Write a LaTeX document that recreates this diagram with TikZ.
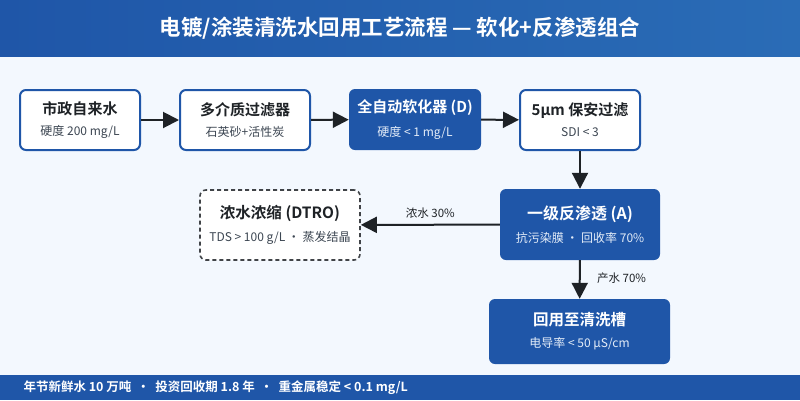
\documentclass[tikz,border=0pt]{standalone}
\usepackage{fontspec}
\setmainfont{Noto Sans CJK SC}[BoldFont={Noto Sans CJK SC Bold}]
\usetikzlibrary{arrows.meta}
\definecolor{deepblue}{HTML}{1F56A8}
\definecolor{lightblue}{HTML}{2A6CB6}
\definecolor{pagebg}{HTML}{F3F8FE}
\definecolor{inkdark}{HTML}{1E2226}
\definecolor{inkgray}{HTML}{3C4652}
\definecolor{subwhite}{HTML}{E3ECF8}
\begin{document}
\begin{tikzpicture}[x=1pt, y=-1pt,
    wbox/.style={draw=deepblue, line width=2pt, fill=white, rounded corners=6pt, align=center, text=inkdark, inner sep=0pt},
    bbox/.style={fill=deepblue, rounded corners=6pt, align=center, text=white, inner sep=0pt},
    dbox/.style={draw=inkdark!85, line width=1.6pt, dash pattern=on 4pt off 3pt, fill=white, rounded corners=6pt, align=center, text=inkdark, inner sep=0pt},
    flow/.style={line width=2pt, inkdark, -{Triangle[length=16pt,width=16pt]}},
    flowlabel/.style={font=\fontsize{11.5}{13}\selectfont, text=inkdark}]
    \useasboundingbox (0,0) rectangle (800,400);

    % Background, title and footer bars
    \fill[pagebg] (0,0) rectangle (800,400);
    \shade[left color=deepblue, right color=lightblue] (0,0) rectangle (800,56);
    \node[text=white, font=\bfseries\fontsize{21.5}{24}\selectfont] (title) at (400,28) {电镀/涂装清洗水回用工艺流程 — 软化+反渗透组合};
    \fill[deepblue] (0,375) rectangle (800,400);
    \node[anchor=west, text=white, font=\bfseries\fontsize{12.5}{15}\selectfont] (footer) at (20,387.5) {年节新鲜水 10 万吨 \ · \ 投资回收期 1.8 年 \ · \ 重金属稳定 < 0.1 mg/L};

    % Pretreatment line
    \node[wbox, minimum width=120, minimum height=60] (tap) at (80,120)
        {{\bfseries\fontsize{15}{17}\selectfont 市政自来水}\\[9pt]{\color{inkgray}\fontsize{12}{13}\selectfont 硬度 200 mg/L}};
    \node[wbox, minimum width=130, minimum height=60] (media) at (245,120)
        {{\bfseries\fontsize{15}{17}\selectfont 多介质过滤器}\\[9pt]{\color{inkgray}\fontsize{12}{13}\selectfont 石英砂+活性炭}};
    \node[bbox, minimum width=132, minimum height=61] (soft) at (415,119.5)
        {{\bfseries\fontsize{15}{17}\selectfont 全自动软化器 (D)}\\[9pt]{\color{subwhite}\fontsize{12}{13}\selectfont 硬度 < 1 mg/L}};
    \node[wbox, minimum width=120, minimum height=60] (guard) at (580,120)
        {{\bfseries\fontsize{15}{17}\selectfont 5µm 保安过滤}\\[9pt]{\color{inkgray}\fontsize{12}{13}\selectfont SDI < 3}};

    % RO stage and outlets
    \node[bbox, minimum width=160, minimum height=71] (ro) at (580,224.5)
        {{\bfseries\fontsize{16}{18}\selectfont 一级反渗透 (A)}\\[9pt]{\color{subwhite}\fontsize{12}{13}\selectfont 抗污染膜 · 回收率 70\%}};
    \node[dbox, minimum width=160, minimum height=70] (dtro) at (280,225)
        {{\bfseries\fontsize{15.5}{18}\selectfont 浓水浓缩 (DTRO)}\\[9pt]{\color{inkgray}\fontsize{12}{13}\selectfont TDS > 100 g/L · 蒸发结晶}};
    \node[bbox, minimum width=181, minimum height=65] (reuse) at (579.5,331.5)
        {{\bfseries\fontsize{15.5}{18}\selectfont 回用至清洗槽}\\[10pt]{\color{subwhite}\fontsize{12}{13}\selectfont 电导率 < 50 µS/cm}};

    % Connectors
    \draw[flow] (tap) -- (media);
    \draw[flow] (media) -- (soft);
    \draw[flow] (soft) -- (guard);
    \draw[flow] (guard) -- (ro);
    \draw[flow] (ro) -- node[flowlabel, above=2pt] (brine) {浓水 30\%} (dtro);
    \draw[flow] (ro) -- node[flowlabel, right=13pt, yshift=1pt] (permeate) {产水 70\%} (reuse);
\end{tikzpicture}
\end{document}
